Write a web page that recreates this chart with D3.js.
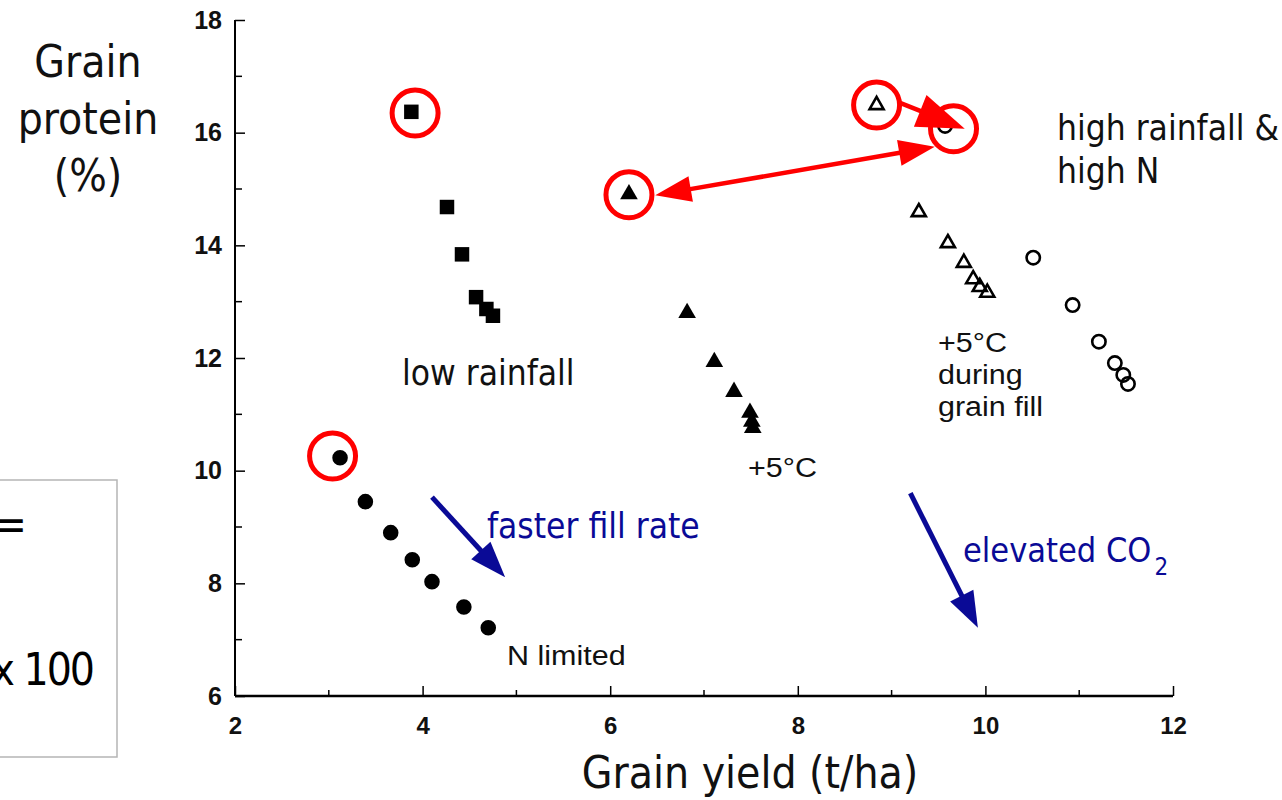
<!DOCTYPE html>
<html>
<head>
<meta charset="utf-8">
<script src="https://cdn.jsdelivr.net/npm/d3@7"></script>
<style>
  html, body { margin: 0; padding: 0; background: #fff; }
  svg { display: block; }
  .cond { font-family: "DejaVu Sans Condensed", "DejaVu Sans", sans-serif; }
  .arial { font-family: "Liberation Sans", Arial, sans-serif; }
</style>
</head>
<body>
<svg id="chart" width="1282" height="800"></svg>
<script>
// Grain yield (t/ha) and grain protein (%) for each scenario
const nLimitedYield    = [3.12, 3.39, 3.66, 3.89, 4.10, 4.44, 4.70];
const nLimitedProtein  = [10.23, 9.45, 8.90, 8.42, 8.03, 7.58, 7.21];
const lowRainYield     = [3.88, 4.26, 4.42, 4.57, 4.68, 4.75];
const lowRainProtein   = [16.37, 14.68, 13.84, 13.08, 12.87, 12.75];
const warmYield        = [6.20, 6.82, 7.11, 7.32, 7.49, 7.51, 7.52];
const warmProtein      = [14.91, 12.80, 11.93, 11.40, 11.03, 10.87, 10.76];
const grainFillYield   = [8.84, 9.29, 9.60, 9.77, 9.87, 9.94, 10.02];
const grainFillProtein = [16.49, 14.59, 14.04, 13.69, 13.40, 13.26, 13.16];
const highRainYield    = [9.57, 10.51, 10.93, 11.21, 11.38, 11.47, 11.52];
const highRainProtein  = [16.12, 13.78, 12.94, 12.29, 11.91, 11.70, 11.54];

// Highlighted baseline points (red rings)
const ringYield   = [3.92, 3.04, 6.20, 8.84, 9.66];
const ringProtein = [16.35, 10.26, 14.90, 16.49, 16.07];

// Axis ticks
const xTicks = [2, 4, 6, 8, 10, 12];
const xMinorTicks = [3, 5, 7, 9, 11];
const yTicks = [6, 8, 10, 12, 14, 16, 18];
const yMinorTicks = [7, 9, 11, 13, 15, 17];

const svg = d3.select("#chart");
const x = d3.scaleLinear().domain([2, 12]).range([235, 1173]);
const y = d3.scaleLinear().domain([6, 18]).range([696, 20]);

// ---------- left-hand formula box ----------
svg.append("rect").attr("x", -3).attr("y", 480).attr("width", 120).attr("height", 277)
  .attr("fill", "none").attr("stroke", "#b5b5b5").attr("stroke-width", 1.5);
svg.append("text").attr("class", "cond").attr("x", 27).attr("y", 540)
  .attr("text-anchor", "end").attr("font-size", 44).text("=");
svg.append("text").attr("class", "cond").attr("x", 93).attr("y", 685)
  .attr("text-anchor", "end").attr("font-size", 44).attr("letter-spacing", -2).text("x 100");

// ---------- axes ----------
const xAxis = d3.axisBottom(x).tickValues(xTicks).tickSizeInner(-10).tickSizeOuter(0).tickPadding(21);
const gx = svg.append("g").attr("transform", `translate(0,${y(6)})`).call(xAxis);
gx.select(".domain").attr("stroke-width", 2.5).attr("d", `M${x(2)},0H${x(12)}`);
gx.selectAll(".tick line").attr("stroke-width", 1.5);
gx.selectAll(".tick text").attr("class", "arial").attr("font-size", 24)
  .attr("font-weight", "bold").attr("fill", "#111");
gx.selectAll(".minor").data(xMinorTicks).enter().append("line")
  .attr("x1", d => x(d)).attr("x2", d => x(d)).attr("y1", 0).attr("y2", -6)
  .attr("stroke", "#000").attr("stroke-width", 1.5);

const yAxis = d3.axisLeft(y).tickValues(yTicks).tickSizeInner(-10).tickSizeOuter(0).tickPadding(13);
const gy = svg.append("g").attr("transform", `translate(${x(2)},0)`).call(yAxis);
gy.select(".domain").attr("stroke-width", 2).attr("d", `M0,${y(18)}V${y(6)}`);
gy.selectAll(".tick line").attr("stroke-width", 1.5);
gy.selectAll(".tick text").attr("class", "arial").attr("font-size", 25)
  .attr("font-weight", "bold").attr("fill", "#111");
gy.selectAll(".minor").data(yMinorTicks).enter().append("line")
  .attr("x1", 0).attr("x2", 7).attr("y1", d => y(d)).attr("y2", d => y(d))
  .attr("stroke", "#000").attr("stroke-width", 1.5);

// ---------- axis titles ----------
const yTitle = svg.append("text").attr("class", "cond").attr("font-size", 44)
  .attr("text-anchor", "middle").attr("fill", "#111");
["Grain", "protein", "(%)"].forEach((t, i) => {
  yTitle.append("tspan").attr("x", 88).attr("y", 77 + i * 57).text(t);
});
svg.append("text").attr("class", "cond").attr("x", 750).attr("y", 788)
  .attr("text-anchor", "middle").attr("font-size", 44).attr("fill", "#111")
  .text("Grain yield (t/ha)");

// ---------- points ----------
const pts = (xs, ys) => xs.map((v, i) => [v, ys[i]]);
function drawSeries(data, type, size, filled) {
  svg.append("g").selectAll("path").data(data).enter().append("path")
    .attr("d", d3.symbol().type(type).size(size))
    .attr("transform", d => `translate(${x(d[0])},${y(d[1])})`)
    .attr("fill", filled ? "#000" : "none")
    .attr("stroke", "#000")
    .attr("stroke-width", filled ? 0 : 2.6);
}
drawSeries(pts(lowRainYield, lowRainProtein), d3.symbolSquare, 210, true);
drawSeries(pts(nLimitedYield, nLimitedProtein), d3.symbolCircle, 190, true);
drawSeries(pts(warmYield, warmProtein), d3.symbolTriangle, 135, true);
drawSeries(pts(grainFillYield, grainFillProtein), d3.symbolTriangle, 85, false);
drawSeries(pts(highRainYield, highRainProtein), d3.symbolCircle, 140, false);

// ---------- red rings ----------
svg.append("g").selectAll("circle").data(pts(ringYield, ringProtein)).enter().append("circle")
  .attr("cx", d => x(d[0])).attr("cy", d => y(d[1])).attr("r", 23)
  .attr("fill", "none").attr("stroke", "#ff0000").attr("stroke-width", 5);

// ---------- arrows ----------
function head(g, tip, from, len, wid, color) {
  const dx = tip[0] - from[0], dy = tip[1] - from[1];
  const L = Math.hypot(dx, dy), ux = dx / L, uy = dy / L;
  const bx = tip[0] - ux * len, by = tip[1] - uy * len;
  g.append("path")
    .attr("d", `M${tip[0]},${tip[1]}L${bx - uy * wid / 2},${by + ux * wid / 2}L${bx + uy * wid / 2},${by - ux * wid / 2}Z`)
    .attr("fill", color);
  return [bx + ux * 2, by + uy * 2];
}
function arrow(x0, y0, x1, y1, opts) {
  const g = svg.append("g");
  let a = [x(x0), y(y0)], b = [x(x1), y(y1)];
  let lineA = a, lineB = b;
  lineB = head(g, b, a, opts.len, opts.wid, opts.color);
  if (opts.both) lineA = head(g, a, b, opts.len, opts.wid, opts.color);
  g.insert("line", ":first-child")
    .attr("x1", lineA[0]).attr("y1", lineA[1]).attr("x2", lineB[0]).attr("y2", lineB[1])
    .attr("stroke", opts.color).attr("stroke-width", opts.width);
}
const red = "#ff0000", navy = "#0a0a96";
arrow(6.48, 14.89, 9.46, 15.75, { both: true, len: 36, wid: 26, width: 4.5, color: red });
arrow(9.09, 16.53, 9.78, 16.07, { both: false, len: 48, wid: 34, width: 4.5, color: red });
arrow(4.10, 9.53, 4.88, 8.11, { both: false, len: 36, wid: 26, width: 5, color: navy });
arrow(9.20, 9.60, 9.92, 7.21, { both: false, len: 36, wid: 26, width: 5, color: navy });

// ---------- annotations ----------
function cond(t, xp, yp, size, color) {
  return svg.append("text").attr("class", "cond").attr("x", xp).attr("y", yp)
    .attr("font-size", size).attr("fill", color || "#111").text(t);
}
cond("low rainfall", 402, 385, 35);
cond("high rainfall &", 1057, 140, 35);
cond("high N", 1057, 183, 35);
cond("faster fill rate", 487, 538, 35, navy);
const co2 = cond("elevated CO", 963, 562, 34, navy);
co2.append("tspan").attr("font-size", 24).attr("dy", 13).attr("dx", 3).text("2");

function arial(lines, xp, yp, size, gap) {
  const t = svg.append("text").attr("class", "arial").attr("font-size", size).attr("fill", "#111")
    .attr("transform", `translate(${xp},${yp}) scale(1.13,1)`);
  lines.forEach((l, i) => t.append("tspan").attr("x", 0).attr("y", i * gap).text(l));
}
arial(["N limited"], 507, 665, 27, 0);
arial(["+5°C"], 748, 477, 27, 0);
arial(["+5°C", "during", "grain fill"], 938, 352, 27, 32);
</script>
</body>
</html>
